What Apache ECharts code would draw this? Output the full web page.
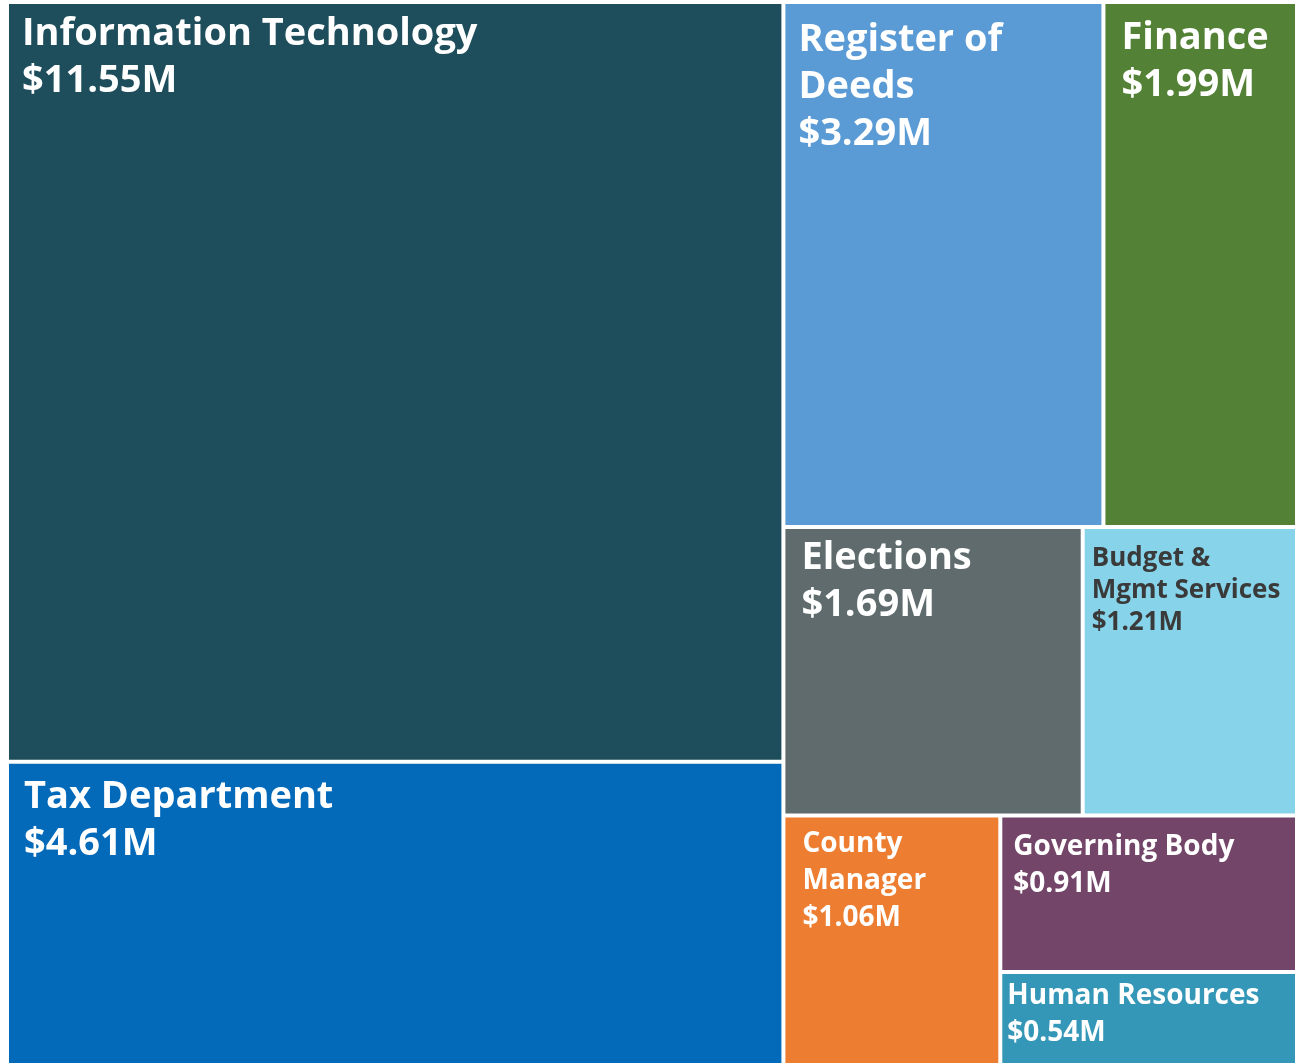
<!DOCTYPE html>
<html>
<head>
<meta charset="utf-8">
<title>Department Budget Treemap</title>
<script src="https://cdn.jsdelivr.net/npm/echarts@6/dist/echarts.min.js"></script>
<style>
  html, body { margin: 0; padding: 0; background: #fff; }
  #budgetTreemap { width: 1304px; height: 1064px; }
</style>
</head>
<body>
<div id="budgetTreemap"></div>
<script>
// department names and budgets ($M)
const departments = [
  'Information Technology', 'Tax Department', 'Register of Deeds', 'Finance',
  'Elections', 'Budget & Mgmt Services', 'County Manager', 'Governing Body', 'Human Resources'
];
const budgets = [11.55, 4.61, 3.29, 1.99, 1.69, 1.21, 1.06, 0.91, 0.54];
// label text, wrapped like the original
const labelNames = [
  'Information Technology', 'Tax Department', 'Register of\nDeeds', 'Finance',
  'Elections', 'Budget &\nMgmt Services', 'County\nManager', 'Governing Body', 'Human Resources'
];

// font sizes
const textSizes = {
  big: { fontSize: 38, lineHeight: 47 },
  mid: { fontSize: 28, lineHeight: 37 },
  small: { fontSize: 26, lineHeight: 32 }
};
// box colours and label padding [top, right, bottom, left]
const boxStyle = {
  'Information Technology': { color: '#1e4d5b', size: 'big', pad: [7, 4, 0, 13] },
  'Tax Department': { color: '#0369b9', size: 'big', pad: [10, 4, 0, 15] },
  'Register of Deeds': { color: '#5b9bd5', size: 'big', pad: [13, 4, 0, 13] },
  'Finance': { color: '#538135', size: 'big', pad: [11, 2, 0, 16] },
  'Elections': { color: '#5f6b6d', size: 'big', pad: [6, 4, 0, 16] },
  'Budget & Mgmt Services': { color: '#86d3ea', size: 'small', pad: [14, 2, 0, 7], text: '#3a3a3a' },
  'County Manager': { color: '#ed7d31', size: 'mid', pad: [8, 4, 0, 17] },
  'Governing Body': { color: '#734669', size: 'mid', pad: [11, 4, 0, 11] },
  'Human Resources': { color: '#3597b7', size: 'mid', pad: [3, 2, 0, 5] }
};

function leaf(i) {
  const s = boxStyle[departments[i]];
  const label = Object.assign({ padding: s.pad }, textSizes[s.size]);
  if (s.text) {
    label.color = s.text;
  }
  return {
    name: departments[i],
    value: budgets[i],
    itemStyle: { color: s.color, borderColor: '#fff', borderWidth: 2 },
    label: label
  };
}

function group(name, children) {
  return { name: name, children: children };
}

// unsorted + grouped so that the squarify layout splits like the original picture
const treeData = [
  group('left', [leaf(0), leaf(1)]),
  leaf(2), leaf(3), leaf(4), leaf(5),
  group('bottom', [leaf(6), group('gbhr', [leaf(7), leaf(8)])])
];

const myChart = echarts.init(document.getElementById('budgetTreemap'));
const option = {
  animation: false,
  series: [
    {
      type: 'treemap',
      left: 7,
      top: 2,
      width: 1290,
      height: 1063,
      sort: false,
      roam: false,
      nodeClick: false,
      breadcrumb: { show: false },
      // parents: no border, no gap
      itemStyle: { borderWidth: 0, gapWidth: 0, borderColor: '#fff' },
      upperLabel: { show: false },
      label: {
        show: true,
        position: 'insideTopLeft',
        distance: 0,
        align: 'left',
        verticalAlign: 'top',
        color: '#fff',
        fontFamily: 'Open Sans',
        fontWeight: 'bold',
        overflow: 'none',
        formatter: function (p) {
          const i = departments.indexOf(p.name);
          if (i < 0) return '';
          return labelNames[i] + '\n$' + Number(p.value).toFixed(2) + 'M';
        }
      },
      emphasis: { disabled: true },
      data: treeData
    }
  ]
};
myChart.setOption(option);
</script>
</body>
</html>
